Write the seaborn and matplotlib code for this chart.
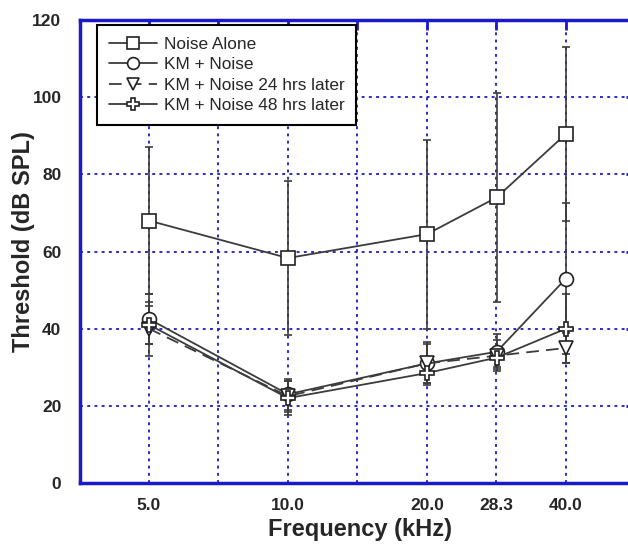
import numpy as np
import pandas as pd
import matplotlib
matplotlib.use('Agg')
import matplotlib.pyplot as plt
import seaborn as sns

# frequencies (kHz) and tick labels
freqs = [5.0, 10.0, 20.0, 28.3, 40.0]
tick_freqs = [5.0, 7.07, 10.0, 14.14, 20.0, 28.28, 40.0]
tick_labels = ['5.0', '', '10.0', '', '20.0', '28.3', '40.0']
y_ticks = [0, 20, 40, 60, 80, 100, 120]

series_names = ['Noise Alone', 'KM + Noise', 'KM + Noise 24 hrs later', 'KM + Noise 48 hrs later']

# mean thresholds (dB SPL)
noise_alone = [68.0, 58.3, 64.5, 74.0, 90.5]
km_noise = [42.5, 23.0, 31.0, 34.0, 53.0]
km_24h = [40.0, 22.5, 31.0, 33.0, 35.0]
km_48h = [41.0, 22.0, 28.5, 32.5, 40.0]

# standard deviations
noise_alone_sd = [19.0, 20.0, 24.5, 27.0, 22.5]
km_noise_sd = [6.5, 4.0, 5.5, 4.5, 19.5]
km_24h_sd = [7.0, 4.0, 5.0, 4.0, 4.0]
km_48h_sd = [5.0, 4.5, 2.5, 2.5, 9.0]

means = [noise_alone, km_noise, km_24h, km_48h]
sds = [noise_alone_sd, km_noise_sd, km_24h_sd, km_48h_sd]

df = pd.DataFrame({
    'freq': freqs * 4,
    'threshold': sum(means, []),
    'series': [n for n in series_names for _ in freqs],
})

line_col = '#3c3c3c'
blue = '#1a1acc'

sns.set_style('white')
plt.rcParams['font.family'] = ['Liberation Sans', 'DejaVu Sans']

fig = plt.figure(figsize=(6.28, 5.48), dpi=100)
ax = fig.add_axes([79.5 / 628, 1 - 483 / 548, (635.5 - 79.5) / 628, (483 - 20) / 548])

# error bars first so markers sit on top
for m, s in zip(means, sds):
    ax.errorbar(freqs, m, yerr=s, fmt='none', ecolor=line_col, elinewidth=1.2,
                capsize=3, capthick=1.2, zorder=2)

markers = {'Noise Alone': 's', 'KM + Noise': 'o',
           'KM + Noise 24 hrs later': 'v', 'KM + Noise 48 hrs later': 'P'}
dashes = {'Noise Alone': '', 'KM + Noise': '',
          'KM + Noise 24 hrs later': (7, 4), 'KM + Noise 48 hrs later': ''}
palette = {n: line_col for n in series_names}

sns.lineplot(data=df, x='freq', y='threshold', hue='series', style='series',
             hue_order=series_names, style_order=series_names,
             markers=markers, dashes=dashes, palette=palette, ax=ax,
             linewidth=1.3, markersize=10, markerfacecolor='white',
             markeredgecolor='#222222', markeredgewidth=1.2, zorder=3)

ax.set_xscale('log', base=2)
ax.set_xlim(5 / np.sqrt(2), 40 * np.sqrt(2))
ax.set_ylim(0, 120)
ax.set_xticks(tick_freqs)
ax.set_xticklabels(tick_labels)
ax.xaxis.set_minor_locator(matplotlib.ticker.NullLocator())
ax.set_yticks(y_ticks)

ax.grid(True, color=blue, linestyle=(0, (1.6, 2.4)), linewidth=1.3)
ax.set_axisbelow(True)
for sp in ax.spines.values():
    sp.set_visible(True)
    sp.set_color(blue)
    sp.set_linewidth(2.5)
ax.tick_params(direction='in', length=7, width=2, color=blue,
               top=True, right=True, labelsize=12.5)
ax.tick_params(axis='x', pad=11)
ax.tick_params(axis='y', pad=13)
for lab in ax.get_xticklabels() + ax.get_yticklabels():
    lab.set_fontweight('bold')

ax.set_xlabel('Frequency (kHz)', fontsize=17, fontweight='bold')
ax.set_ylabel('Threshold (dB SPL)', fontsize=17, fontweight='bold')
ax.xaxis.set_label_coords((360 - 79.5) / 556, -(518 - 483) / 463)
ax.yaxis.set_label_coords(-(79.5 - 35) / 556, (483 - 242) / 463)

leg = ax.legend(loc='upper left', bbox_to_anchor=(17 / 556, 1 - 5 / 463),
                borderaxespad=0, fontsize=12.4, frameon=True, fancybox=False,
                framealpha=1, edgecolor='black', handlelength=2.8,
                handletextpad=0.4, labelspacing=0.3, borderpad=0.7,
                markerscale=0.85)
leg.get_frame().set_linewidth(1.5)
leg.set_zorder(10)

fig.savefig('out.png', dpi=100)
